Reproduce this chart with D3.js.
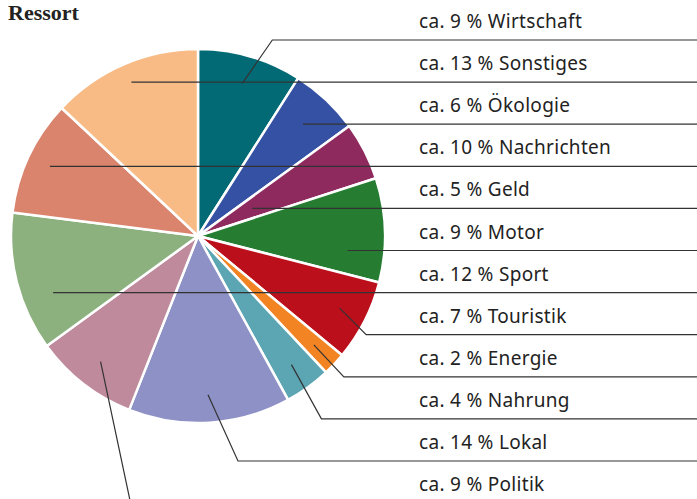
<!DOCTYPE html>
<html>
<head>
<meta charset="utf-8">
<script src="https://cdn.jsdelivr.net/npm/d3@7"></script>
<style>
  body { margin: 0; background: #fff; }
  .title { font-family: "Liberation Serif", serif; font-weight: bold; font-size: 22px; fill: #222; }
  .label { font-family: "Noto Sans", sans-serif; font-size: 19px; letter-spacing: 0.3px; fill: #222; }
  .leader { fill: none; stroke: #333; stroke-width: 1.2; }
</style>
</head>
<body>
<svg id="svg1" width="697" height="499"></svg>
<script>
// slices clockwise from 12 o'clock
var sliceNames = ['Wirtschaft', 'Ökologie', 'Geld', 'Motor', 'Touristik', 'Energie',
    'Nahrung', 'Lokal', 'Politik', 'Sport', 'Nachrichten', 'Sonstiges'];
var sliceValues = [9, 6, 5, 9, 7, 2, 4, 14, 9, 12, 10, 13];
var sliceColors = ['#016a74', '#3551a3', '#8f2a5e', '#267d32', '#bb101b', '#f28424',
    '#5ca5b3', '#8e91c6', '#bf8a9b', '#8cb17f', '#da846d', '#f8bb86'];

// label order down the right side
var labelOrder = ['Wirtschaft', 'Sonstiges', 'Ökologie', 'Nachrichten', 'Geld', 'Motor',
    'Sport', 'Touristik', 'Energie', 'Nahrung', 'Lokal', 'Politik'];

var svg = d3.select('#svg1');
var svgWidth = +svg.attr('width');

var cx = 198, cy = 236, radius = 187;

svg.append('text')
    .attr('class', 'title')
    .attr('x', 8)
    .attr('y', 20)
    .text('Ressort');

var data = sliceNames.map(function(n, i) {
    return {name: n, value: sliceValues[i], color: sliceColors[i]};
});

var pie = d3.pie().sort(null).value(function(d) { return d.value; });
var arc = d3.arc().innerRadius(0).outerRadius(radius);
var arcs = pie(data);

var chart = svg.append('g')
    .attr('transform', 'translate(' + [cx, cy] + ')');

chart.selectAll('.slice')
    .data(arcs)
    .enter()
    .append('path')
    .attr('class', 'slice')
    .attr('d', arc)
    .style('fill', function(d) { return d.data.color; })
    .style('stroke', '#fff')
    .style('stroke-width', 2.5)
    .style('stroke-linejoin', 'round');

// rows on the right
var rowY = d3.scalePoint().domain(labelOrder).range([40, 40 + 11 * 42.1]);

function leaderPoints(d) {
    var a = (d.startAngle + d.endAngle) / 2;
    var ry = rowY(d.data.name) - cy;
    var c = -Math.cos(a);
    var r = c !== 0 ? ry / c : -1;
    // mid-angle ray hits the row inside the pie: straight line
    if (r > 0.3 * radius && r < 0.92 * radius) {
        return [[Math.sin(a) * r, ry], [svgWidth - cx, ry]];
    }
    var nx = Math.sin(a) * radius * 0.8, ny = -Math.cos(a) * radius * 0.8;
    if (Math.abs(ry - ny) < 21) {
        return [[nx, ry], [svgWidth - cx, ry]];
    }
    // otherwise bend to the row
    var sx = Math.sin(a) * radius * 0.85, sy = -Math.cos(a) * radius * 0.85;
    var ex = sx + Math.min(Math.abs(ry - sy), 30);
    return [[sx, sy], [ex, ry], [svgWidth - cx, ry]];
}

chart.selectAll('.leader')
    .data(arcs)
    .enter()
    .append('path')
    .attr('class', 'leader')
    .attr('d', function(d) { return d3.line()(leaderPoints(d)); });

svg.selectAll('.label')
    .data(labelOrder)
    .enter()
    .append('text')
    .attr('class', 'label')
    .attr('x', 419)
    .attr('y', function(d) { return rowY(d) - 12; })
    .text(function(d) {
        return 'ca. ' + sliceValues[sliceNames.indexOf(d)] + ' % ' + d;
    });
</script>
</body>
</html>
